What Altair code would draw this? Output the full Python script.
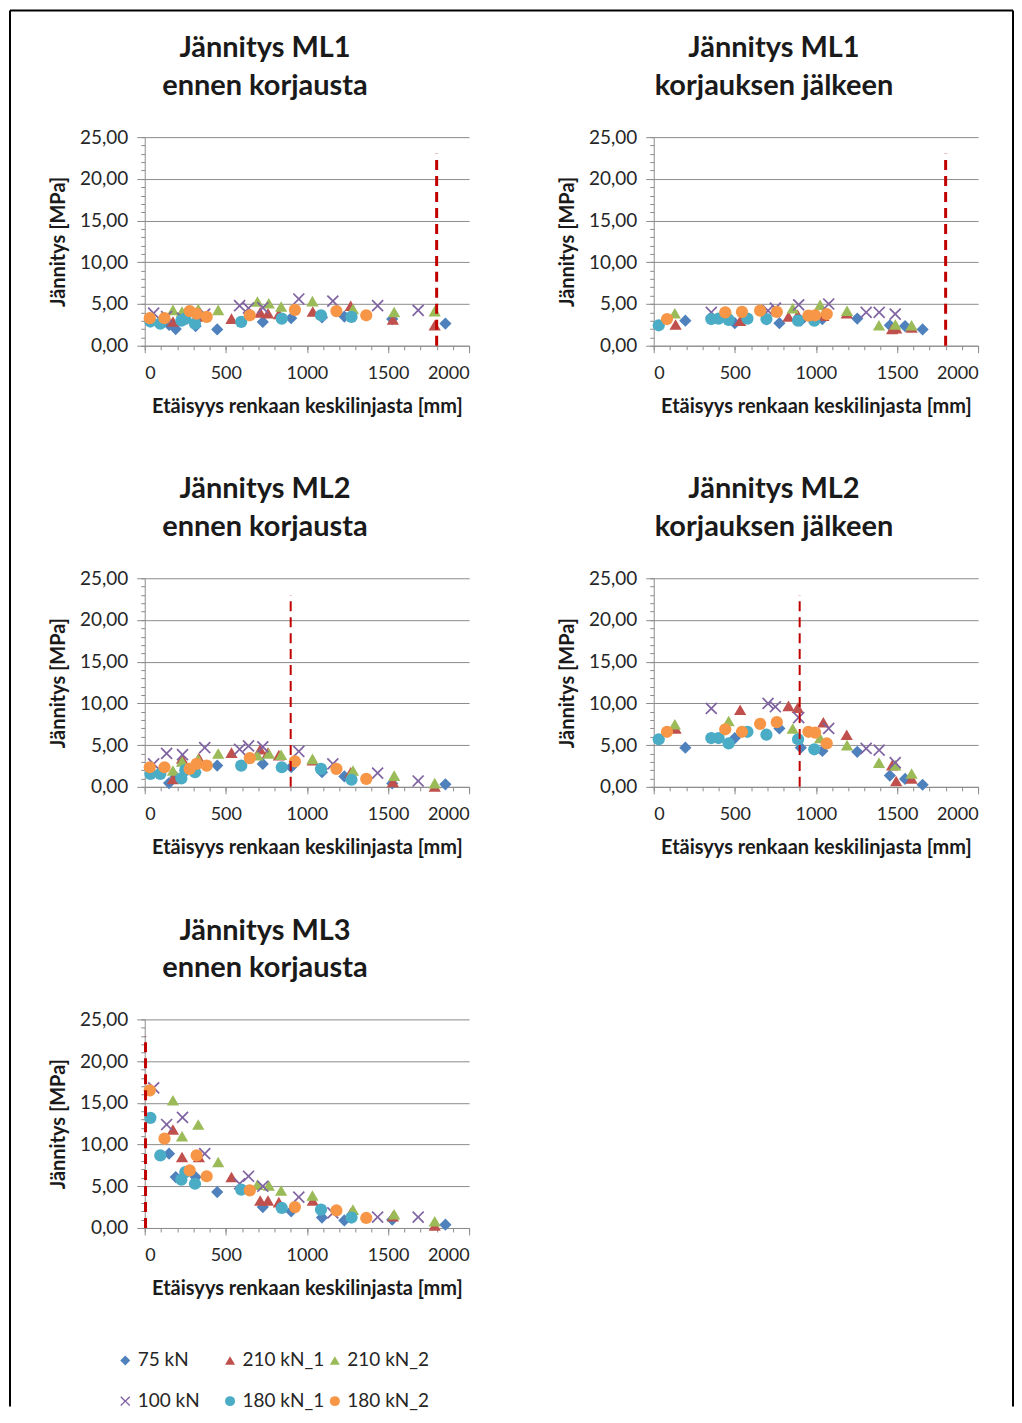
import altair as alt
import pandas as pd

# ---------------- data ----------------
SERIES = ["75 kN", "210 kN_1", "210 kN_2", "100 kN", "180 kN_1", "180 kN_2"]
COLORS = ["#4F81BD", "#C0504D", "#9BBB59", "#8064A2", "#4BACC6", "#F79646"]
X_PATH = "M-1,-0.8L-0.8,-1L0,-0.2L0.8,-1L1,-0.8L0.2,0L1,0.8L0.8,1L0,0.2L-0.8,1L-1,0.8L-0.2,0Z"
SHAPES = ["diamond", "triangle-up", "triangle-up", X_PATH, "circle", "circle"]

PANEL_TITLES = [
    ["Jännitys ML1", "ennen korjausta"],
    ["Jännitys ML1", "korjauksen jälkeen"],
    ["Jännitys ML2", "ennen korjausta"],
    ["Jännitys ML2", "korjauksen jälkeen"],
    ["Jännitys ML3", "ennen korjausta"],
]
RED_LINE_X = [1800, 1800, 900, 900, 5]
RED_LINE_TOP = [23, 23, 23, 23, 23]
RED_LINE_W = [3, 3, 2, 2, 3]

X_TICKS = [0, 500, 1000, 1500, 2000]
Y_TICKS = [0, 5, 10, 15, 20, 25]

# measurement positions (mm) before repair
X75_B = [150, 191, 314, 447, 728, 903, 1093, 1231, 1526, 1854]
X100_B = [55, 135, 233, 370, 585, 640, 728, 950, 1160, 1436, 1686]
X210_1_B = [174, 230, 334, 535, 712, 760, 827, 1036, 1270, 1530, 1788]
X210_2_B = [174, 230, 330, 453, 695, 765, 841, 1034, 1284, 1538, 1788]
X180_1_B = [35, 96, 226, 250, 310, 595, 845, 1087, 1275]
X180_2_B = [31, 122, 277, 320, 382, 648, 926, 1182, 1366]

# measurement positions (mm) after repair
X75_A = [195, 500, 775, 907, 1040, 1255, 1456, 1550, 1658]
X100_A = [355, 705, 750, 894, 1079, 1310, 1390, 1489]
X210_1_A = [135, 533, 831, 888, 1046, 1190, 1470, 1495, 1590]
X210_2_A = [130, 462, 857, 1026, 1192, 1389, 1490, 1590]
X180_1_A = [31, 355, 400, 462, 578, 695, 890, 990]
X180_2_A = [82, 441, 544, 656, 759, 954, 995, 1067]

# ML1 before
ML1B_75 = [2.5, 2.0, 2.35, 1.95, 2.85, 3.3, 3.4, 3.5, 3.2, 2.65]
ML1B_100 = [3.9, 3.5, 3.3, 3.8, 4.8, 4.5, 4.55, 5.6, 5.35, 4.8, 4.25]
ML1B_210_1 = [2.9, 3.2, 3.5, 3.25, 4.0, 3.9, 3.8, 4.1, 4.8, 3.15, 2.45]
ML1B_210_2 = [4.3, 4.1, 4.4, 4.3, 5.3, 5.1, 4.7, 5.35, 4.4, 4.05, 4.15]
ML1B_180_1 = [2.9, 2.65, 3.0, 3.25, 2.65, 2.85, 3.25, 3.65, 3.45]
ML1B_180_2 = [3.3, 3.3, 4.15, 3.85, 3.45, 3.65, 4.3, 4.15, 3.65]

# ML1 after
ML1A_75 = [3.0, 2.7, 2.7, 3.0, 3.2, 3.25, 2.45, 2.35, 1.95]
ML1A_100 = [4.0, 4.2, 4.5, 4.9, 5.0, 4.0, 4.0, 3.8]
ML1A_210_1 = [2.55, 3.0, 3.5, 3.7, 3.6, 3.9, 2.0, 2.1, 2.2]
ML1A_210_2 = [3.9, 3.8, 4.5, 4.9, 4.2, 2.45, 2.55, 2.45]
ML1A_180_1 = [2.45, 3.2, 3.25, 3.1, 3.25, 3.2, 3.0, 3.0]
ML1A_180_2 = [3.2, 4.0, 4.05, 4.2, 4.05, 3.6, 3.65, 3.8]

# ML2 before
ML2B_75 = [0.45, 1.2, 1.75, 2.55, 2.75, 2.35, 1.75, 1.25, 0.4, 0.3]
ML2B_100 = [2.75, 4.0, 3.85, 4.7, 4.5, 4.9, 4.8, 4.25, 2.75, 1.65, 0.7]
ML2B_210_1 = [0.95, 3.4, 3.45, 4.1, 4.5, 4.1, 3.8, 3.2, 1.75, 0.6, 0.05]
ML2B_210_2 = [1.95, 3.05, 3.3, 4.0, 3.8, 4.0, 3.85, 3.35, 1.95, 1.35, 0.45]
ML2B_180_1 = [1.55, 1.55, 1.0, 2.0, 1.75, 2.55, 2.35, 2.15, 0.85]
ML2B_180_2 = [2.35, 2.35, 2.15, 2.75, 2.55, 3.45, 3.05, 2.15, 0.95]

# ML2 after
ML2A_75 = [4.7, 5.85, 7.0, 4.7, 4.3, 4.2, 1.35, 0.95, 0.25]
ML2A_100 = [9.4, 10.0, 9.6, 8.3, 7.0, 4.6, 4.4, 2.9]
ML2A_210_1 = [7.0, 9.25, 9.7, 9.5, 7.75, 6.25, 2.6, 0.7, 1.0]
ML2A_210_2 = [7.5, 7.9, 7.0, 5.85, 5.0, 2.9, 2.6, 1.6]
ML2A_180_1 = [5.7, 5.85, 5.85, 5.2, 6.6, 6.25, 5.7, 4.5]
ML2A_180_2 = [6.6, 6.9, 6.6, 7.55, 7.75, 6.6, 6.5, 5.2]

# ML3 before
ML3B_75 = [8.9, 6.1, 6.1, 4.3, 2.5, 2.0, 1.25, 0.9, 1.0, 0.4]
ML3B_100 = [16.8, 12.4, 13.25, 8.9, 5.3, 6.2, 5.0, 3.7, 1.8, 1.3, 1.3]
ML3B_210_1 = [11.8, 8.5, 8.5, 6.1, 3.3, 3.3, 3.1, 3.3, 1.8, 1.4, 0.3]
ML3B_210_2 = [15.3, 11.0, 12.4, 7.9, 5.2, 5.1, 4.5, 3.9, 2.2, 1.65, 0.8]
ML3B_180_1 = [13.2, 8.7, 5.8, 6.7, 5.3, 4.6, 2.4, 2.2, 1.25]
ML3B_180_2 = [16.5, 10.7, 6.9, 8.7, 6.2, 4.5, 2.5, 2.1, 1.2]

X_BEFORE = [X75_B, X210_1_B, X210_2_B, X100_B, X180_1_B, X180_2_B]
X_AFTER = [X75_A, X210_1_A, X210_2_A, X100_A, X180_1_A, X180_2_A]
PANELS = [
    (X_BEFORE, [ML1B_75, ML1B_210_1, ML1B_210_2, ML1B_100, ML1B_180_1, ML1B_180_2]),
    (X_AFTER, [ML1A_75, ML1A_210_1, ML1A_210_2, ML1A_100, ML1A_180_1, ML1A_180_2]),
    (X_BEFORE, [ML2B_75, ML2B_210_1, ML2B_210_2, ML2B_100, ML2B_180_1, ML2B_180_2]),
    (X_AFTER, [ML2A_75, ML2A_210_1, ML2A_210_2, ML2A_100, ML2A_180_1, ML2A_180_2]),
    (X_BEFORE, [ML3B_75, ML3B_210_1, ML3B_210_2, ML3B_100, ML3B_180_1, ML3B_180_2]),
]

records = []
for p, (xs_all, ys_all) in enumerate(PANELS):
    for s, xs, ys in zip(SERIES, xs_all, ys_all):
        for x, y in zip(xs, ys):
            records.append({"panel": p, "series": s, "x": x, "y": y})
df = pd.DataFrame(records)

rule_df = pd.DataFrame({
    "panel": list(range(5)),
    "x": RED_LINE_X,
    "y0": [0] * 5,
    "y1": RED_LINE_TOP,
    "w": RED_LINE_W,
})

# ---------------- styling ----------------
FONT = "Lato"
GRAY = "#8c8c8c"
TXT = "#262626"
W, H = 325, 209

xscale = alt.Scale(domain=[0, 2000], nice=False, zero=False)
yscale = alt.Scale(domain=[0, 25], nice=False)

major_x = alt.Axis(values=X_TICKS, format="d", grid=False, domainColor=GRAY, tickColor=GRAY, tickSize=7,
                   labelFont=FONT, labelFontSize=18, labelColor=TXT, labelPadding=12,
                   title="Etäisyys renkaan keskilinjasta [mm]", titleFont=FONT, titleFontSize=20,
                   titleFontWeight="bold", titleColor="#1a1a1a", titlePadding=14, orient="bottom")
minor_x = alt.Axis(values=list(range(0, 2001, 100)), grid=False, domain=False, labels=False,
                   tickColor=GRAY, tickSize=4, title=None, orient="bottom")
major_y = alt.Axis(values=Y_TICKS, grid=True, gridColor=GRAY, domainColor=GRAY, tickColor=GRAY,
                   tickSize=8, labelFont=FONT, labelFontSize=19, labelColor=TXT, labelPadding=9,
                   labelExpr="replace(format(datum.value, '.2f'), '.', ',')",
                   title="Jännitys [MPa]", titleFont=FONT, titleFontSize=20, titleFontWeight="bold",
                   titleColor="#1a1a1a", titlePadding=11, orient="left")
minor_y = alt.Axis(values=list(range(0, 26)), grid=False, domain=False, labels=False,
                   tickColor=GRAY, tickSize=4, title=None, orient="left")

legend_def = alt.Legend(title=None, orient="none", legendX=-29, legendY=1216, direction="horizontal",
                        columns=3, gridAlign="all", symbolSize=100, symbolStrokeWidth=0,
                        labelFont=FONT, labelFontSize=19, labelColor=TXT,
                        labelOffset=3, rowPadding=21, columnPadding=1, padding=0)


def panel(i):
    pts = alt.Chart(df[df.panel == i]).mark_point(filled=True, opacity=1, size=150, strokeWidth=0).encode(
        x=alt.X("x:Q", scale=xscale, axis=major_x),
        y=alt.Y("y:Q", scale=yscale, axis=major_y),
        color=alt.Color("series:N", scale=alt.Scale(domain=SERIES, range=COLORS), legend=legend_def),
        shape=alt.Shape("series:N", scale=alt.Scale(domain=SERIES, range=SHAPES), legend=legend_def),
    )
    red = alt.Chart(rule_df[rule_df.panel == i]).mark_rule(color="#C00000", strokeDash=[10, 6]).encode(
        x=alt.X("x:Q", scale=xscale, axis=minor_x),
        y=alt.Y("y0:Q", scale=yscale, axis=minor_y),
        y2="y1:Q",
        strokeWidth=alt.StrokeWidth("w:Q", scale=None, legend=None),
    )
    return alt.layer(pts, red).resolve_axis(x="independent", y="independent").properties(
        width=W, height=H,
        title=alt.TitleParams(text=PANEL_TITLES[i], anchor="middle", frame="group", dx=-42,
                              font=FONT, fontSize=29, fontWeight="bold", color="#1a1a1a",
                              lineHeight=38, offset=27),
    )


# outer frame, held by the empty sixth grid cell (its origin is 510 px right, 884 px below panel 1)
frame_df = pd.DataFrame({"k": [0]})
fr = alt.Chart(frame_df).mark_rule(color="black", strokeWidth=2)
frame_cell = alt.layer(
    fr.encode(x=alt.value(-645), x2=alt.value(360), y=alt.value(-1011)),
    fr.encode(x=alt.value(-645), y=alt.value(-1011), y2=alt.value(388)),
    fr.encode(x=alt.value(360), y=alt.value(-1011), y2=alt.value(388)),
).properties(width=W, height=H)

chart = alt.concat(*[panel(i) for i in range(5)], frame_cell, columns=2,
                   spacing={"row": 233, "column": 185}, bounds="flush").properties(
    padding={"left": 1, "top": 0, "right": 0, "bottom": 0},
    background="white",
).configure_view(stroke=None)

chart.save("out.html", embed_options={"renderer": "svg", "actions": False})
